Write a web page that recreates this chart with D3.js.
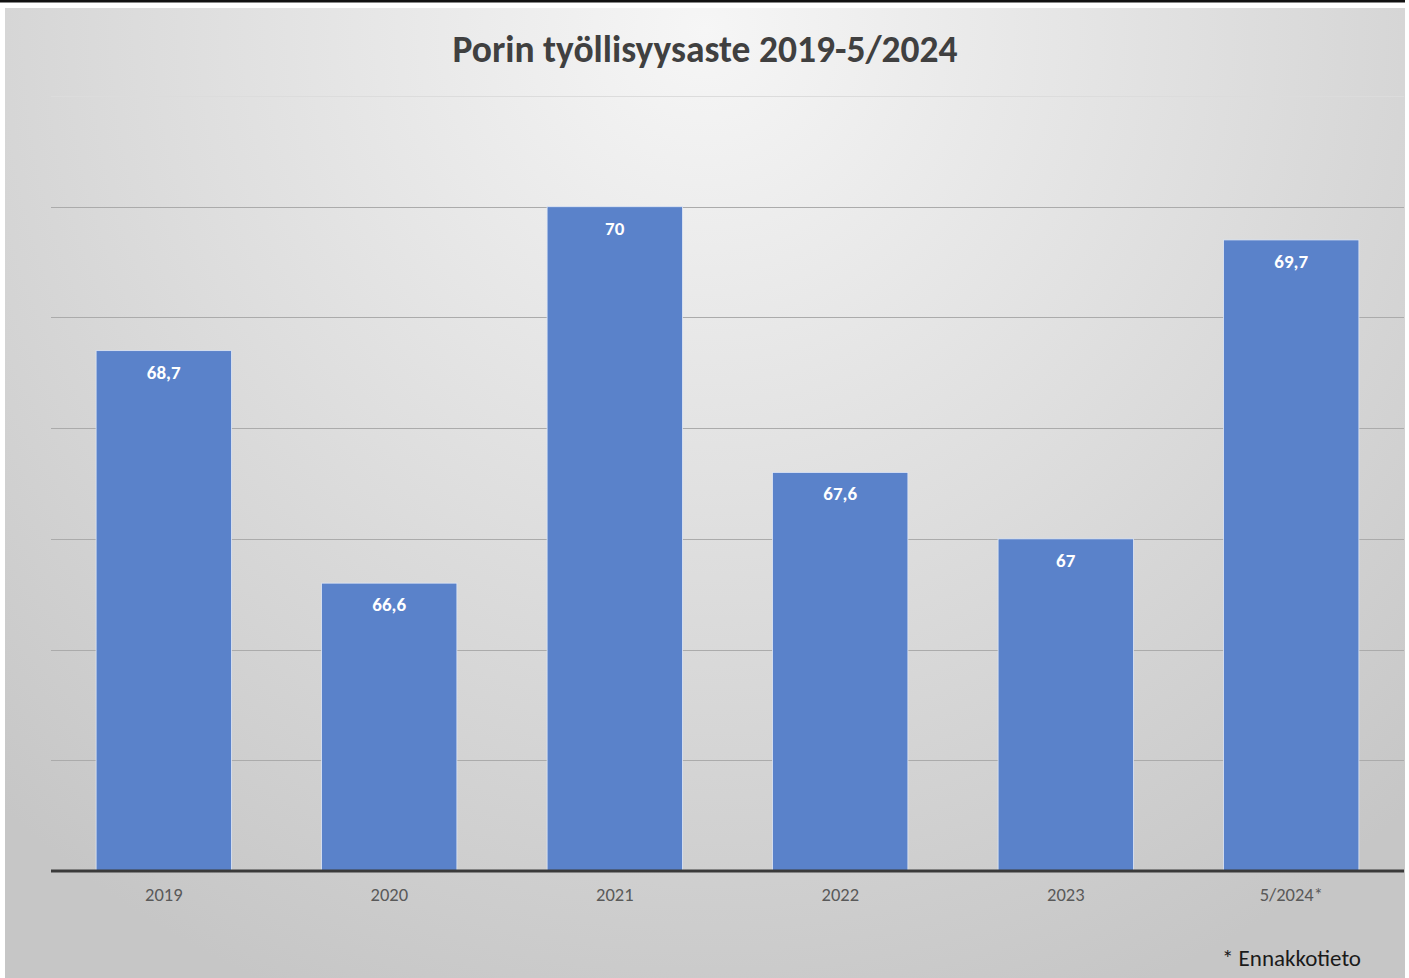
<!DOCTYPE html>
<html>
<head>
<meta charset="utf-8">
<script src="https://cdn.jsdelivr.net/npm/d3@7"></script>
<style>
  body { margin: 0; background: #fff; }
  svg { display: block; }
</style>
</head>
<body>
<svg id="chart" width="1409" height="978"></svg>
<script>
// Data
var categories = ['2019', '2020', '2021', '2022', '2023', '5/2024*']
var values = [68.7, 66.6, 70, 67.6, 67, 69.7]
var valueLabels = ['68,7', '66,6', '70', '67,6', '67', '69,7']
var yTicks = [64, 65, 66, 67, 68, 69, 70, 71]
var title = 'Porin työllisyysaste 2019-5/2024'
var note = '* Ennakkotieto'

var font = 'Carlito, Calibri, "Open Sans", sans-serif'

var svg = d3.select('#chart')

// background gradient
var defs = svg.append('defs')
var grad = defs.append('radialGradient')
  .attr('id', 'bg')
  .attr('gradientUnits', 'userSpaceOnUse')
  .attr('cx', 705).attr('cy', 30)
  .attr('r', 1050)
grad.append('stop').attr('offset', '0%').attr('stop-color', '#f6f6f6')
grad.append('stop').attr('offset', '100%').attr('stop-color', '#c6c6c6')

svg.append('rect')
  .attr('x', 0).attr('y', 0).attr('width', 1405).attr('height', 2.5)
  .attr('fill', '#111')
svg.append('rect')
  .attr('x', 5).attr('y', 8).attr('width', 1400).attr('height', 970)
  .attr('fill', 'url(#bg)')

// scales
var margin = { left: 51, right: 1404, top: 96, bottom: 871 }
var x = d3.scaleBand()
  .domain(categories)
  .range([margin.left, margin.right])
  .paddingInner(0.4)
  .paddingOuter(0.2)
var y = d3.scaleLinear()
  .domain([64, 71])
  .range([margin.bottom, margin.top])

// gridlines
svg.append('g')
  .selectAll('line')
  .data(yTicks.slice(1))
  .enter()
  .append('line')
  .attr('x1', margin.left).attr('x2', margin.right)
  .attr('y1', d => Math.round(y(d)) + 0.5)
  .attr('y2', d => Math.round(y(d)) + 0.5)
  .attr('stroke', (d, i) => i === yTicks.length - 2 ? '#dcdcdc' : '#ababab')
  .attr('stroke-width', 1)

// bars
svg.append('g')
  .selectAll('rect')
  .data(values)
  .enter()
  .append('rect')
  .attr('x', (d, i) => x(categories[i]))
  .attr('width', x.bandwidth())
  .attr('y', d => y(d))
  .attr('height', d => y(64) - y(d))
  .attr('fill', '#5a82ca')
  .attr('stroke', '#dfe7f5')
  .attr('stroke-width', 0.8)

// value labels
svg.append('g')
  .selectAll('text')
  .data(values)
  .enter()
  .append('text')
  .attr('x', (d, i) => x(categories[i]) + x.bandwidth() / 2)
  .attr('y', d => y(d) + 28)
  .attr('text-anchor', 'middle')
  .attr('font-family', font)
  .attr('font-weight', 'bold')
  .attr('font-size', 19)
  .attr('fill', '#fff')
  .text((d, i) => valueLabels[i])

// x axis line
svg.append('line')
  .attr('x1', margin.left).attr('x2', margin.right)
  .attr('y1', y(64)).attr('y2', y(64))
  .attr('stroke', '#3a3a3a')
  .attr('stroke-width', 3)

// x axis labels
var xAxis = d3.axisBottom(x).tickSize(0).tickPadding(17)
var gx = svg.append('g')
  .attr('transform', 'translate(0,' + y(64) + ')')
  .call(xAxis)
gx.select('.domain').remove()
gx.selectAll('text')
  .attr('font-family', font)
  .attr('font-size', 18.5)
  .attr('fill', '#595959')

// title
svg.append('text')
  .attr('x', 705)
  .attr('y', 62)
  .attr('text-anchor', 'middle')
  .attr('font-family', font)
  .attr('font-weight', 'bold')
  .attr('font-size', 37.5)
  .attr('fill', '#404040')
  .text(title)

// footnote
svg.append('text')
  .attr('x', 1361)
  .attr('y', 966)
  .attr('text-anchor', 'end')
  .attr('font-family', font)
  .attr('font-size', 23)
  .attr('fill', '#1a1a1a')
  .text(note)
</script>
</body>
</html>
